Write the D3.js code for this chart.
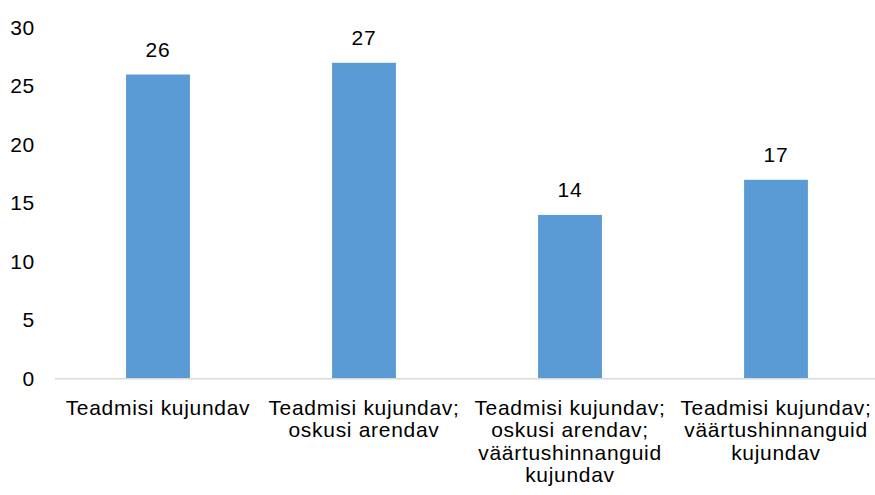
<!DOCTYPE html>
<html>
<head>
<meta charset="utf-8">
<script src="https://cdn.jsdelivr.net/npm/d3@7"></script>
<style>
  html, body { margin: 0; padding: 0; background: #fff; }
  svg { display: block; font-family: "Liberation Sans", Arial, sans-serif; }
</style>
</head>
<body>
<div id="chart"></div>
<script>
// Bar chart data
const categories = ["c1", "c2", "c3", "c4"];
const labelLines = [
  ["Teadmisi kujundav"],
  ["Teadmisi kujundav;", "oskusi arendav"],
  ["Teadmisi kujundav;", "oskusi arendav;", "väärtushinnanguid", "kujundav"],
  ["Teadmisi kujundav;", "väärtushinnanguid", "kujundav"]
];
const values = [26, 27, 14, 17];
const yTicks = [0, 5, 10, 15, 20, 25, 30];

const width = 875, height = 495;
const fontSize = "21px", spacing = "0.7px";

const svg = d3.select("#chart")
  .append("svg")
  .attr("width", width)
  .attr("height", height);

// scales
const x = d3.scaleBand()
  .domain(categories)
  .range([55, 879])
  .paddingInner(0.69)
  .paddingOuter(0.345);

const y = d3.scaleLinear()
  .domain([0, 30])
  .range([378.7, 27.7]);

// y tick labels
svg.append("g")
  .selectAll("text")
  .data(yTicks)
  .join("text")
  .attr("x", 35)
  .attr("y", d => y(d))
  .attr("dy", "0.33em")
  .attr("text-anchor", "end")
  .style("font-size", fontSize)
  .style("letter-spacing", spacing)
  .style("fill", "#000")
  .text(d => d);

// bars
svg.append("g")
  .selectAll("rect")
  .data(values)
  .join("rect")
  .attr("x", (d, i) => x(categories[i]))
  .attr("y", d => y(d))
  .attr("width", x.bandwidth())
  .attr("height", d => y(0) - y(d))
  .attr("fill", "#5b9bd5");

// baseline
svg.append("line")
  .attr("x1", 55)
  .attr("x2", 875)
  .attr("y1", y(0))
  .attr("y2", y(0))
  .attr("stroke", "#d9d9d9")
  .attr("stroke-width", 1.5);

// value labels
svg.append("g")
  .selectAll("text")
  .data(values)
  .join("text")
  .attr("x", (d, i) => x(categories[i]) + x.bandwidth() / 2)
  .attr("y", d => y(d) - 17.5)
  .attr("text-anchor", "middle")
  .style("font-size", fontSize)
  .style("letter-spacing", spacing)
  .style("fill", "#000")
  .text(d => d);

// category labels
const catG = svg.append("g")
  .selectAll("text")
  .data(categories)
  .join("text")
  .attr("text-anchor", "middle")
  .style("font-size", fontSize)
  .style("letter-spacing", spacing)
  .style("fill", "#000");

catG.each(function (d, i) {
  const cx = x(d) + x.bandwidth() / 2;
  d3.select(this).selectAll("tspan")
    .data(labelLines[i])
    .join("tspan")
    .attr("x", cx)
    .attr("y", (t, j) => 415 + j * 22.3)
    .text(t => t);
});
</script>
</body>
</html>
